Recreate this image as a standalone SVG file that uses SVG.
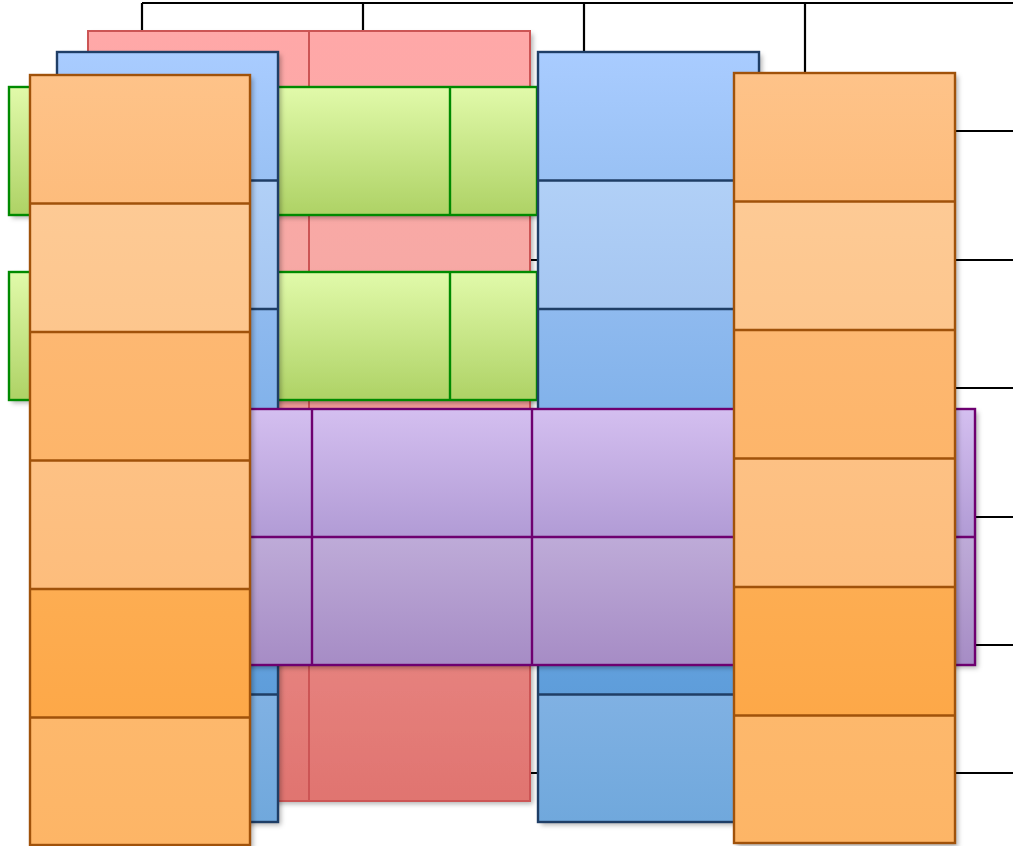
<svg xmlns="http://www.w3.org/2000/svg" width="1013" height="846" viewBox="0 0 1013 846">
<defs>
<filter id="sh" x="-10%" y="-10%" width="130%" height="130%"><feDropShadow dx="3" dy="3" stdDeviation="2.5" flood-color="#000" flood-opacity="0.3"/></filter>
<linearGradient id="gRed" x1="0" y1="0" x2="0" y2="1"><stop offset="0" stop-color="#FFA8A8"/><stop offset="0.3" stop-color="#F7A9A5"/><stop offset="1" stop-color="#E07470"/></linearGradient>
<linearGradient id="gGreen" x1="0" y1="0" x2="0" y2="1"><stop offset="0" stop-color="#E1FAAA"/><stop offset="1" stop-color="#AED265"/></linearGradient>
<linearGradient id="gB1" x1="0" y1="0" x2="0" y2="1"><stop offset="0" stop-color="#A9CCFF"/><stop offset="1" stop-color="#99C1F4"/></linearGradient>
<linearGradient id="gB2" x1="0" y1="0" x2="0" y2="1"><stop offset="0" stop-color="#B1D0F7"/><stop offset="1" stop-color="#A5C6F1"/></linearGradient>
<linearGradient id="gB3" x1="0" y1="0" x2="0" y2="1"><stop offset="0" stop-color="#8FBAEF"/><stop offset="1" stop-color="#7EB0E9"/></linearGradient>
<linearGradient id="gB4" x1="0" y1="0" x2="0" y2="1"><stop offset="0" stop-color="#80B2EA"/><stop offset="1" stop-color="#6FA7E2"/></linearGradient>
<linearGradient id="gB5" x1="0" y1="0" x2="0" y2="1"><stop offset="0" stop-color="#6CA8E4"/><stop offset="1" stop-color="#5E9DDA"/></linearGradient>
<linearGradient id="gB6" x1="0" y1="0" x2="0" y2="1"><stop offset="0" stop-color="#80B1E3"/><stop offset="1" stop-color="#70A8DC"/></linearGradient>
<linearGradient id="gP1" x1="0" y1="0" x2="0" y2="1"><stop offset="0" stop-color="#D4BFF0"/><stop offset="1" stop-color="#B19BD5"/></linearGradient>
<linearGradient id="gP2" x1="0" y1="0" x2="0" y2="1"><stop offset="0" stop-color="#BEABD8"/><stop offset="1" stop-color="#A68CC5"/></linearGradient>
<linearGradient id="gO1" x1="0" y1="0" x2="0" y2="1"><stop offset="0" stop-color="#FEC389"/><stop offset="1" stop-color="#FDBC7C"/></linearGradient>
<linearGradient id="gO2" x1="0" y1="0" x2="0" y2="1"><stop offset="0" stop-color="#FDCA95"/><stop offset="1" stop-color="#FDC68D"/></linearGradient>
<linearGradient id="gO3" x1="0" y1="0" x2="0" y2="1"><stop offset="0" stop-color="#FDB872"/><stop offset="1" stop-color="#FDB56A"/></linearGradient>
<linearGradient id="gO4" x1="0" y1="0" x2="0" y2="1"><stop offset="0" stop-color="#FDC184"/><stop offset="1" stop-color="#FDBD7C"/></linearGradient>
<linearGradient id="gO5" x1="0" y1="0" x2="0" y2="1"><stop offset="0" stop-color="#FDAD52"/><stop offset="1" stop-color="#FDA848"/></linearGradient>
<linearGradient id="gO6" x1="0" y1="0" x2="0" y2="1"><stop offset="0" stop-color="#FDB86C"/><stop offset="1" stop-color="#FDB566"/></linearGradient>
</defs>
<style>
.con{stroke:#000;stroke-width:2.2;fill:none}
.red{stroke:#CC5555;stroke-width:2;fill:none}
.grn{stroke:#008A00;stroke-width:2.4;fill:none}
.blu{stroke:#1F3E66;stroke-width:2.4;fill:none}
.pur{stroke:#6E0070;stroke-width:2.4;fill:none}
.org{stroke:#A0520A;stroke-width:2.4;fill:none}
</style>
<g id="connectors">
<path class="con" d="M142 3H1013M142 3V31M363 3V31M584 3V52M805 3V73"/>
<path class="con" d="M142 131H1013M142 260H1013M142 388H1013M142 517H1013M142 645H1013M142 773H1013"/>
</g>
<g id="node-red">
<rect x="88" y="31" width="442" height="770" fill="url(#gRed)" filter="url(#sh)"/>
<rect class="red" x="88" y="31" width="442" height="770"/>
<line class="red" x1="309" y1="31" x2="309" y2="801"/>
</g>
<g id="node-green-1">
<rect x="9" y="87" width="528" height="128" fill="url(#gGreen)" filter="url(#sh)"/>
<rect class="grn" x="9" y="87" width="528" height="128"/>
<path class="grn" d="M230 87V215M450 87V215"/>
</g>
<g id="node-green-2">
<rect x="9" y="272" width="528" height="128" fill="url(#gGreen)" filter="url(#sh)"/>
<rect class="grn" x="9" y="272" width="528" height="128"/>
<path class="grn" d="M230 272V400M450 272V400"/>
</g>
<g id="node-blue-left">
<rect x="57" y="52" width="221" height="770" fill="#000" filter="url(#sh)"/>
<rect x="57" y="52" width="221" height="128.5" fill="url(#gB1)"/>
<rect x="57" y="180.5" width="221" height="128.5" fill="url(#gB2)"/>
<rect x="57" y="309" width="221" height="128.5" fill="url(#gB3)"/>
<rect x="57" y="437.5" width="221" height="128.5" fill="url(#gB4)"/>
<rect x="57" y="566" width="221" height="128.5" fill="url(#gB5)"/>
<rect x="57" y="694.5" width="221" height="127.5" fill="url(#gB6)"/>
<rect class="blu" x="57" y="52" width="221" height="770"/>
<path class="blu" d="M57 180.5H278M57 309H278M57 437.5H278M57 566H278M57 694.5H278"/>
</g>
<g id="node-blue-right">
<rect x="538" y="52" width="221" height="770" fill="#000" filter="url(#sh)"/>
<rect x="538" y="52" width="221" height="128.5" fill="url(#gB1)"/>
<rect x="538" y="180.5" width="221" height="128.5" fill="url(#gB2)"/>
<rect x="538" y="309" width="221" height="128.5" fill="url(#gB3)"/>
<rect x="538" y="437.5" width="221" height="128.5" fill="url(#gB4)"/>
<rect x="538" y="566" width="221" height="128.5" fill="url(#gB5)"/>
<rect x="538" y="694.5" width="221" height="127.5" fill="url(#gB6)"/>
<rect class="blu" x="538" y="52" width="221" height="770"/>
<path class="blu" d="M538 180.5H759M538 309H759M538 437.5H759M538 566H759M538 694.5H759"/>
</g>
<g id="node-purple">
<rect x="91" y="409" width="884" height="256" fill="#000" filter="url(#sh)"/>
<rect x="91" y="409" width="884" height="128" fill="url(#gP1)"/>
<rect x="91" y="537" width="884" height="128" fill="url(#gP2)"/>
<rect class="pur" x="91" y="409" width="884" height="256"/>
<path class="pur" d="M91 537H975M312 409V665M532 409V665M753 409V665"/>
</g>
<g id="node-orange-left">
<rect x="30" y="75" width="220" height="771" fill="#000" filter="url(#sh)"/>
<rect x="30" y="75" width="220" height="128.5" fill="url(#gO1)"/>
<rect x="30" y="203.5" width="220" height="128.5" fill="url(#gO2)"/>
<rect x="30" y="332" width="220" height="128.5" fill="url(#gO3)"/>
<rect x="30" y="460.5" width="220" height="128.5" fill="url(#gO4)"/>
<rect x="30" y="589" width="220" height="128.5" fill="url(#gO5)"/>
<rect x="30" y="717.5" width="220" height="128.5" fill="url(#gO6)"/>
<rect class="org" x="30" y="75" width="220" height="770"/>
<path class="org" d="M30 203.5H250M30 332H250M30 460.5H250M30 589H250M30 717.5H250"/>
</g>
<g id="node-orange-right">
<rect x="734" y="73" width="221" height="771" fill="#000" filter="url(#sh)"/>
<rect x="734" y="73" width="221" height="128.5" fill="url(#gO1)"/>
<rect x="734" y="201.5" width="221" height="128.5" fill="url(#gO2)"/>
<rect x="734" y="330" width="221" height="128.5" fill="url(#gO3)"/>
<rect x="734" y="458.5" width="221" height="128.5" fill="url(#gO4)"/>
<rect x="734" y="587" width="221" height="128.5" fill="url(#gO5)"/>
<rect x="734" y="715.5" width="221" height="128.5" fill="url(#gO6)"/>
<rect class="org" x="734" y="73" width="221" height="770"/>
<path class="org" d="M734 201.5H955M734 330H955M734 458.5H955M734 587H955M734 715.5H955"/>
</g>
</svg>
